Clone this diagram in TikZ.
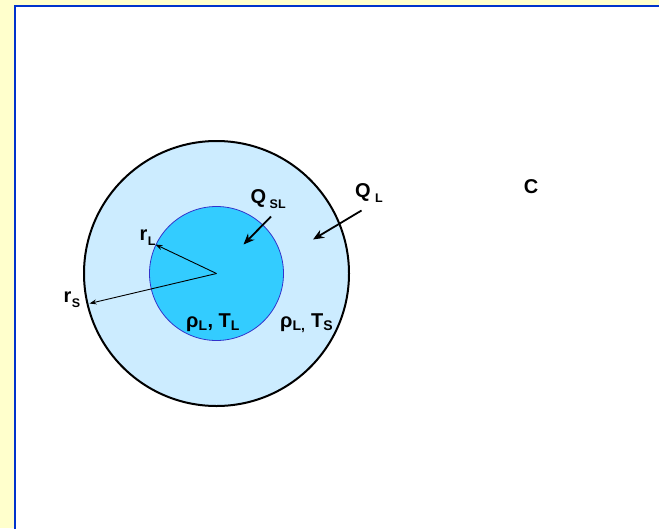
\documentclass[tikz,border=0pt]{standalone}
\usepackage{fontspec}
\setmainfont{Liberation Sans}
\usetikzlibrary{arrows.meta}
\definecolor{bgyellow}{HTML}{FFFFCC}
\definecolor{frameblue}{HTML}{0033CC}
\definecolor{outerfill}{HTML}{CCECFF}
\definecolor{innerfill}{HTML}{33CCFF}
\definecolor{innerline}{HTML}{3333CC}
\tikzset{
  lbl/.style={inner sep=0pt, font=\bfseries\fontsize{20}{22}\selectfont},
  sub/.style={inner sep=0pt, font=\bfseries\fontsize{12.5}{14}\selectfont},
  radarrow/.style={-{Stealth[length=7pt,width=5pt]}, line width=0.9pt},
  heatarrow/.style={-{Stealth[length=11pt,width=9pt]}, line width=1.8pt},
}
\begin{document}
\begin{tikzpicture}[x=1pt,y=-1pt]
\useasboundingbox (0,0) rectangle (659,528);
\fill[bgyellow] (0,0) rectangle (659,528);
\fill[white] (15,6) rectangle (662,531);
\draw[frameblue, line width=2pt] (15.3,540) -- (15.3,6) -- (670,6);
\coordinate (c) at (216.5,273.5);
\node[circle, draw=black, line width=2pt, fill=outerfill, minimum size=265pt, inner sep=0pt] (outer) at (c) {};
\node[circle, draw=innerline, line width=0.8pt, fill=innerfill, minimum size=134pt, inner sep=0pt] (inner) at (c) {};
\coordinate (rLtip) at (155.5,244.5);
\coordinate (rStip) at (89.5,303.5);
\draw[radarrow] (c) -- (rLtip);
\draw[radarrow] (c) -- (rStip);
\node[lbl] (rL) at (143.5,235) {r};
\node[sub, anchor=west] (rLs) at (rL.east) [yshift=-6pt, xshift=0pt] {L};
\node[lbl] (rS) at (67.5,297) {r};
\node[sub, anchor=west] (rSs) at (rS.east) [yshift=-6pt, xshift=0pt] {S};
\node[lbl] (QSL) at (258.5,198.5) {Q};
\node[sub, anchor=west] (QSLs) at (QSL.east) [yshift=-6pt, xshift=3pt] {SL};
\node[lbl] (QL) at (363,192.5) {Q};
\node[sub, anchor=west] (QLs) at (QL.east) [yshift=-6pt, xshift=4pt] {L};
\coordinate (qsla) at (271,216.5);
\coordinate (qslb) at (243.5,244.5);
\draw[heatarrow] (qsla) -- (qslb);
\coordinate (qla) at (361.5,210.5);
\coordinate (qlb) at (313,239.5);
\draw[heatarrow] (qla) -- (qlb);
\node[lbl] (C) at (531,187) {C};
\node[lbl, anchor=base west] (propL) at (186,327) {ρ\textsubscript{L}, T\textsubscript{L}};
\node[lbl, anchor=base west] (propS) at (280,327) {ρ\textsubscript{L,} T\textsubscript{S}};
\end{tikzpicture}
\end{document}
